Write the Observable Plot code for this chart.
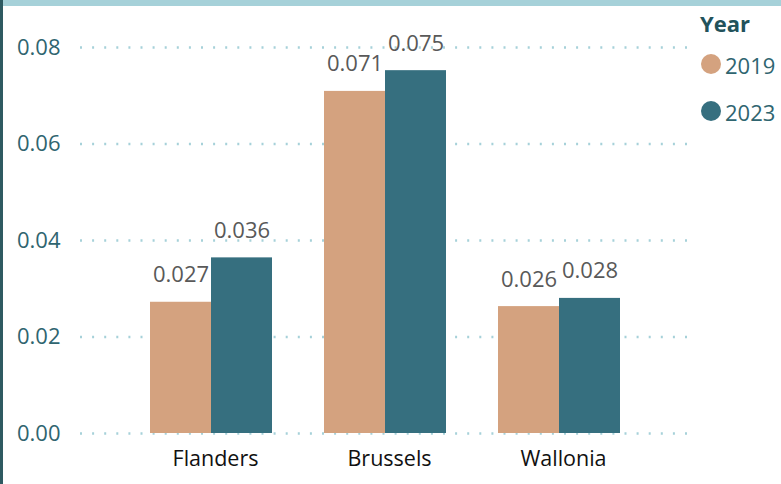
<!DOCTYPE html>
<html><head><meta charset="utf-8">
<script src="https://cdn.jsdelivr.net/npm/d3@7"></script>
<script src="https://cdn.jsdelivr.net/npm/@observablehq/plot@0.6"></script>
<style>
html,body{margin:0;padding:0;background:#fff;}
#wrap{position:relative;width:781px;height:484px;overflow:hidden;font-family:"Open Sans",sans-serif;background:#fff;}
#wrap svg{position:absolute;left:0;top:0;}
#topbar{position:absolute;left:0;top:0;width:781px;height:6px;background:#A6D1D9;}
#leftbar{position:absolute;left:0;top:0;width:3px;height:484px;background:#2E5A61;}
</style></head>
<body><div id="wrap"><div id="topbar"></div><div id="leftbar"></div></div>
<script>
const regions = ["Flanders", "Brussels", "Wallonia"];
const years = ["2019", "2023"];
const values2019 = [0.0272, 0.0709, 0.0263];
const values2023 = [0.0364, 0.0752, 0.0280];
const yTicks = [0, 0.02, 0.04, 0.06, 0.08];
const colors = ["#D4A27F", "#366F7F"];
const legendTitle = "Year";

const rows = regions.flatMap((r, i) => [
  {region: r, year: years[0], value: values2019[i]},
  {region: r, year: years[1], value: values2023[i]}
]);

const dims = {width: 781, height: 484, marginLeft: 80, marginRight: 91, marginTop: 47, marginBottom: 51};
const fontStyle = {fontFamily: "'Open Sans', sans-serif", fontSize: "22px", background: "transparent", overflow: "visible"};

const base = Plot.plot({
  ...dims,
  style: fontStyle,
  y: {domain: [0, 0.08]},
  marks: [
    Plot.ruleY(yTicks, {stroke: "#A6D1D9", strokeWidth: 2.5, strokeDasharray: "2,10.1"}),
    Plot.axisY(yTicks, {tickSize: 0, tickPadding: 20, tickFormat: d3.format(".2f"), color: "#2F6570", fontSize: 22, label: null})
  ]
});

const bars = Plot.plot({
  ...dims,
  style: fontStyle,
  fx: {domain: regions, paddingInner: 0.297, paddingOuter: 0.394, label: null},
  x: {domain: years, padding: 0, axis: null},
  y: {domain: [0, 0.08], axis: null},
  color: {domain: years, range: colors},
  marks: [
    Plot.barY(rows, {fx: "region", x: "year", y: "value", fill: "year"}),
    Plot.text(rows, {fx: "region", x: "year", y: "value", text: d => d.value.toFixed(3), dy: -27, fill: "#595959", fontSize: 22}),
    Plot.axisFx({anchor: "bottom", tickSize: 0, tickPadding: 17, fontSize: 21.5, dx: 4, color: "#111", label: null})
  ]
});

const wrap = document.getElementById("wrap");
wrap.appendChild(base);
wrap.appendChild(bars);

// legend
const leg = d3.create("svg").attr("width", 781).attr("height", 484)
  .style("font-family", "'Open Sans', sans-serif");
leg.append("text").attr("x", 700).attr("y", 32).attr("font-size", 22).attr("font-weight", 700)
  .attr("fill", "#22525B").text(legendTitle);
years.forEach((y, i) => {
  leg.append("circle").attr("cx", 711).attr("cy", 64 + i * 47).attr("r", 10).attr("fill", colors[i]);
  leg.append("text").attr("x", 725).attr("y", 74 + i * 47).attr("font-size", 22).attr("fill", "#2F6570").text(y);
});
wrap.appendChild(leg.node());
</script>
</body></html>
